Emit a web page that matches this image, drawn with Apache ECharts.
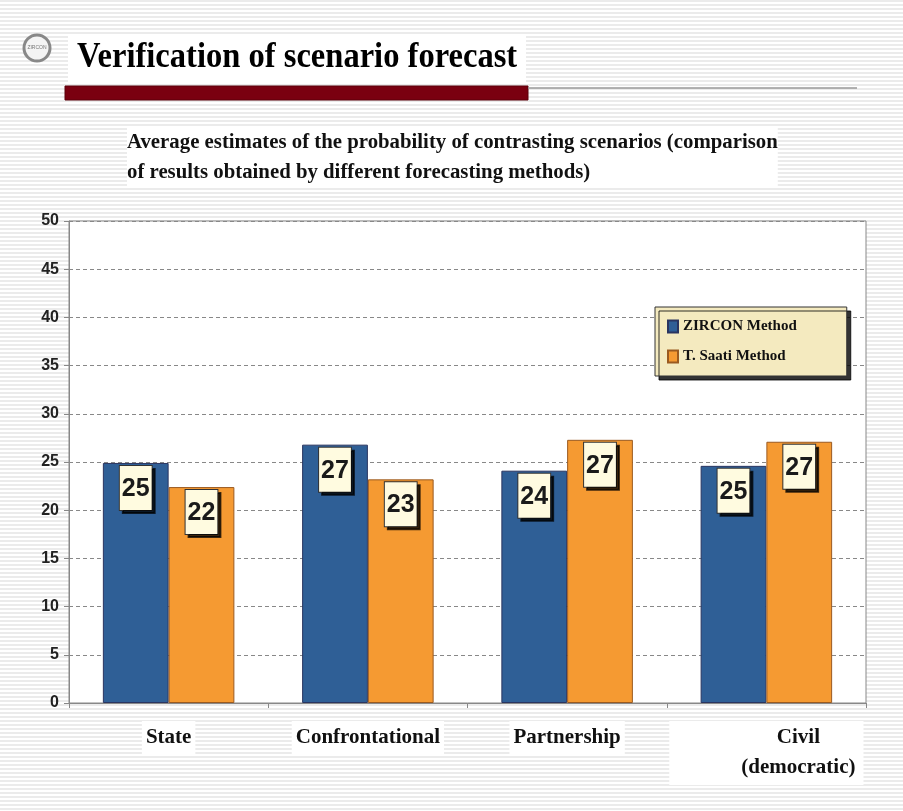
<!DOCTYPE html>
<html>
<head>
<meta charset="utf-8">
<title>Verification of scenario forecast</title>
<script src="https://cdn.jsdelivr.net/npm/echarts@6/dist/echarts.min.js"></script>
<style>
    html, body { margin: 0; padding: 0; background: #fff; }
    #main { width: 903px; height: 811px; }
</style>
</head>
<body>
<div id="main"></div>
<script>
// data
var categories = ['State', 'Confrontational', 'Partnership', 'Civil\n(democratic)'];
var seriesNames = ['ZIRCON Method', 'T. Saati Method'];
var zirconValues = [24.9, 26.8, 24.1, 24.6];
var saatiValues = [22.4, 23.2, 27.3, 27.1];
var yTicks = {min: 0, max: 50, interval: 5};

// striped slide background
var stripe = document.createElement('canvas');
stripe.width = 8;
stripe.height = 4;
var sctx = stripe.getContext('2d');
sctx.fillStyle = '#ffffff';
sctx.fillRect(0, 0, 8, 4);
sctx.fillStyle = '#ebebeb';
sctx.fillRect(0, 0, 8, 2);

var serif = '"Liberation Serif", "Times New Roman", serif';
var sans = '"Liberation Sans", Arial, sans-serif';

var boxLabel = {
    show: true,
    position: 'insideTop',
    distance: 3,
    formatter: function (p) {
        return Math.round(p.value);
    },
    fontFamily: sans,
    fontWeight: 'bold',
    fontSize: 25,
    lineHeight: 26,
    color: '#1a1a1a',
    backgroundColor: '#fffbe0',
    borderColor: '#333',
    borderWidth: 1,
    padding: [10, 2, 8, 2],
    shadowColor: 'rgba(0,0,0,0.75)',
    shadowOffsetX: 3,
    shadowOffsetY: 3,
    shadowBlur: 0
};

// the last category label sits right of its tick on the slide
var categoryData = categories.map(function (c, i) {
    if (i === categories.length - 1) {
        return {value: c, textStyle: {padding: [2, 8, 2, 72]}};
    }
    return c;
});

var myChart = echarts.init(document.getElementById('main'));

var option = {
    backgroundColor: {image: stripe, repeat: 'repeat'},
    animation: false,
    graphic: [
        {
            type: 'rect',
            shape: {x: 68, y: 36, width: 458, height: 46},
            style: {fill: '#fff'}
        },
        {
            type: 'text',
            x: 77,
            y: 40,
            scaleX: 0.93,
            style: {
                text: 'Verification of scenario forecast',
                fontFamily: serif,
                fontWeight: 'bold',
                fontSize: 35,
                fill: '#000'
            }
        },
        {
            type: 'rect',
            shape: {x: 65, y: 86, width: 463, height: 14},
            style: {fill: '#7a0010', stroke: '#5a000a', lineWidth: 1}
        },
        {
            type: 'line',
            shape: {x1: 528, y1: 88, x2: 857, y2: 88},
            style: {stroke: '#999', lineWidth: 1.5}
        },
        {
            type: 'circle',
            shape: {cx: 37, cy: 48, r: 13},
            style: {fill: '#f4f4f4', stroke: '#888', lineWidth: 3}
        },
        {
            type: 'text',
            x: 37,
            y: 48,
            style: {
                text: 'ZIRCON',
                fontSize: 5,
                fill: '#777',
                align: 'center',
                verticalAlign: 'middle'
            }
        },
        {
            type: 'text',
            left: 127,
            top: 128,
            style: {
                text: 'Average estimates of the probability of contrasting scenarios (comparison\nof results obtained by different forecasting methods)',
                fontFamily: serif,
                fontWeight: 'bold',
                fontSize: 20.8,
                lineHeight: 30,
                fill: '#111',
                backgroundColor: '#fff'
            }
        }
    ],
    legend: {
        data: seriesNames,
        orient: 'vertical',
        left: 655,
        top: 307,
        padding: [12, 50, 12, 12],
        itemGap: 15,
        itemWidth: 10,
        itemHeight: 12,
        icon: 'rect',
        backgroundColor: '#f4eabf',
        borderColor: '#333',
        borderWidth: 1,
        shadowColor: 'rgba(0,0,0,0.8)',
        shadowOffsetX: 4,
        shadowOffsetY: 4,
        shadowBlur: 0,
        textStyle: {
            fontFamily: serif,
            fontWeight: 'bold',
            fontSize: 15,
            color: '#111'
        }
    },
    grid: {
        left: 69,
        right: 37,
        top: 221,
        bottom: 108,
        show: true,
        backgroundColor: '#fff',
        borderColor: '#888',
        borderWidth: 1
    },
    xAxis: {
        type: 'category',
        data: categoryData,
        axisLine: {lineStyle: {color: '#888'}},
        axisTick: {show: true, length: 5, lineStyle: {color: '#888'}},
        axisLabel: {
            margin: 18,
            fontFamily: serif,
            fontWeight: 'bold',
            fontSize: 21,
            lineHeight: 30,
            color: '#111',
            backgroundColor: '#fff',
            padding: [2, 4]
        }
    },
    yAxis: {
        type: 'value',
        min: yTicks.min,
        max: yTicks.max,
        interval: yTicks.interval,
        axisLine: {show: true, lineStyle: {color: '#888'}},
        axisTick: {show: true, length: 5, lineStyle: {color: '#888'}},
        axisLabel: {
            margin: 10,
            fontFamily: sans,
            fontWeight: 'bold',
            fontSize: 16,
            color: '#222'
        },
        splitLine: {
            show: true,
            lineStyle: {color: '#888', type: [4, 3], width: 1}
        }
    },
    series: [
        {
            name: seriesNames[0],
            type: 'bar',
            data: zirconValues,
            barGap: '0%',
            barCategoryGap: '34%',
            itemStyle: {color: '#2f5f96', borderColor: '#2a3560', borderWidth: 1},
            label: boxLabel
        },
        {
            name: seriesNames[1],
            type: 'bar',
            data: saatiValues,
            itemStyle: {color: '#f59a32', borderColor: '#9a5a20', borderWidth: 1},
            label: boxLabel
        }
    ]
};

myChart.setOption(option);
</script>
</body>
</html>
